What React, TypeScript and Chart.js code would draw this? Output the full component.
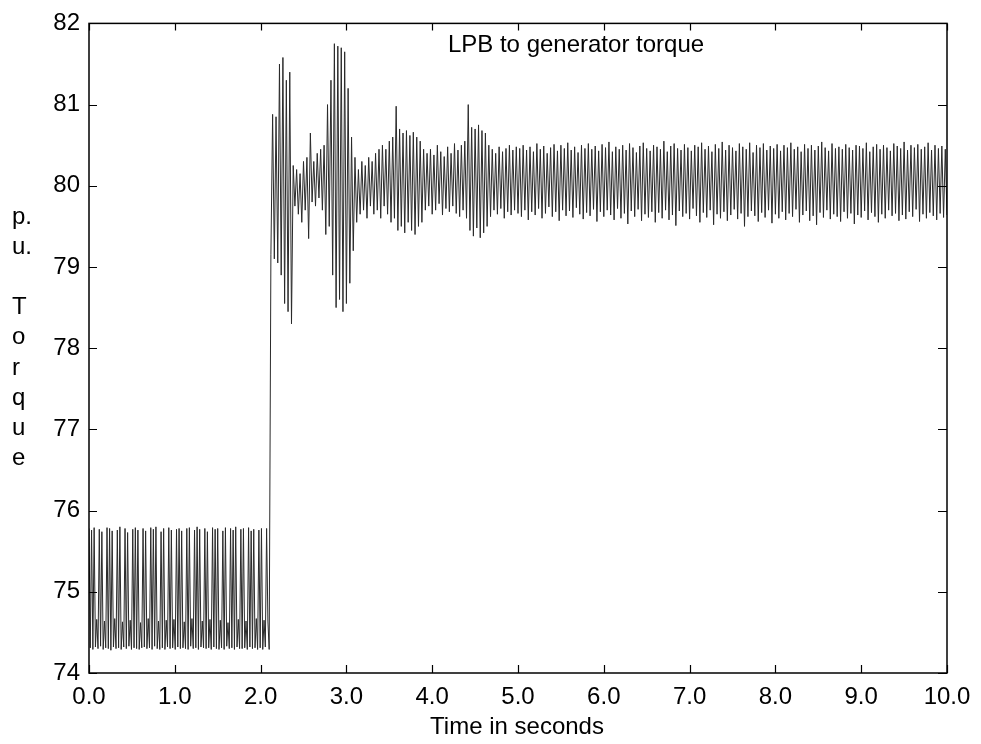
import { useEffect, useRef } from "react";
import { Chart, registerables } from "chart.js";

Chart.register(...registerables);

const FONT = '"Liberation Sans", Arial, Helvetica, sans-serif';

const TITLE = "LPB to generator torque";
const X_TITLE = "Time in seconds";
const Y_TITLE_LINES = ["p.", "u.", "", "T", "o", "r", "q", "u", "e"];

const X_MIN = 0;
const X_MAX = 10;
const X_STEP = 1;
const Y_MIN = 74;
const Y_MAX = 82;
const Y_STEP = 1;

// 0.00 s – 2.10 s : pre-disturbance oscillation (sampled every 0.015 s)
const SEG1_START = 0;
const SEG1_STEP = 0.015;
const SEG1_VALUES = [
  75.78, 74.31, 75.76, 74.29, 75.79, 74.32, 74.66, 74.30,
  75.77, 74.33, 75.74, 74.29, 74.64, 74.31,
  75.79, 74.30, 75.78, 74.28, 75.75, 74.32, 74.67, 74.30,
  75.76, 74.31, 75.80, 74.29, 74.63, 74.32,
  75.78, 74.30, 75.73, 74.33, 74.65, 74.29,
  75.77, 74.31, 75.79, 74.30, 75.76, 74.29, 74.62, 74.31,
  75.78, 74.32, 75.75, 74.30, 74.67, 74.31,
  75.79, 74.29, 75.77, 74.33, 75.80, 74.30, 74.64, 74.29,
  75.74, 74.31, 75.78, 74.29, 74.65, 74.32,
  75.79, 74.30, 75.76, 74.31, 74.66, 74.29,
  75.77, 74.32, 75.78, 74.30, 75.75, 74.31, 74.63, 74.30,
  75.78, 74.29, 75.79, 74.33, 74.67, 74.30,
  75.76, 74.31, 75.80, 74.29, 75.77, 74.32, 74.64, 74.31,
  75.78, 74.30, 75.74, 74.31, 74.66, 74.29,
  75.79, 74.32, 75.77, 74.30, 75.78, 74.29, 74.65, 74.31,
  75.75, 74.29, 75.79, 74.33, 74.62, 74.30,
  75.78, 74.31, 75.76, 74.29, 75.80, 74.32, 74.66, 74.30,
  75.77, 74.30, 75.78, 74.31, 74.64, 74.29,
  75.79, 74.32, 75.75, 74.30, 75.77, 74.31, 74.67, 74.29,
  75.76, 74.31, 75.78, 74.29, 74.65, 74.32,
  75.78, 74.64, 74.29,
];

const SAMPLE_STEP = 0.02;

// 2.12 s – 4.98 s : step and transient bursts
const SEG2_START = 2.12;
const SEG2_VALUES = [
  79.15, 80.88, 79.10, 80.85, 79.05, 81.50, 78.90, 81.58, 78.55, 81.30,
  78.45, 81.40, 78.30, 80.25, 79.75, 80.20, 79.65, 80.15, 79.55, 80.30,
  79.70, 80.35, 79.35, 80.65, 79.80, 80.30, 79.75, 80.40, 79.85, 80.45,
  79.70, 80.50, 79.40, 81.00, 79.50, 81.30, 78.90, 81.75, 78.50, 81.72,
  78.60, 81.70, 78.45, 81.65, 78.55, 81.20, 78.80, 80.60, 79.20, 80.35,
  79.55, 80.20, 79.65, 80.30, 79.70, 80.25, 79.60, 80.35, 79.75, 80.30,
  79.65, 80.40, 79.70, 80.45, 79.60, 80.50, 79.75, 80.45, 79.65, 80.55,
  79.55, 80.60, 79.60, 80.98, 79.45, 80.70, 79.50, 80.65, 79.42, 80.68,
  79.55, 80.62, 79.45, 80.66, 79.40, 80.60, 79.50, 80.55, 79.55, 80.45,
  79.70, 80.40, 79.75, 80.45, 79.65, 80.38, 79.70, 80.50, 79.78, 80.42,
  79.64, 80.36, 79.72, 80.48, 79.68, 80.40, 79.75, 80.52, 79.66, 80.44,
  79.62, 80.50, 79.70, 80.55, 79.60, 81.00, 79.45, 80.72, 79.38, 80.70,
  79.48, 80.75, 79.36, 80.68, 79.42, 80.65, 79.50, 80.50, 79.62, 80.45,
  79.70, 80.40, 79.65, 80.48, 79.72, 80.42, 79.60, 80.46, 79.68, 80.50,
  79.64, 80.44, 79.70, 80.48,
];

// 5.00 s – 10.00 s : settled oscillation
const SEG3_START = 5.0;
const SEG3_VALUES = [
  79.66, 80.46, 79.62, 80.50, 79.70, 80.44, 79.58, 80.48, 79.68, 80.42,
  79.64, 80.52, 79.72, 80.45, 79.60, 80.49, 79.66, 80.40, 79.74, 80.47,
  79.62, 80.51, 79.68, 80.43, 79.57, 80.50, 79.70, 80.46, 79.63, 80.53,
  79.69, 80.44, 79.61, 80.48, 79.73, 80.41, 79.65, 80.50, 79.59, 80.46,
  79.67, 80.52, 79.63, 80.45, 79.71, 80.49, 79.56, 80.43, 79.68, 80.51,
  79.62, 80.47, 79.70, 80.54, 79.64, 80.42, 79.58, 80.48, 79.72, 80.45,
  79.60, 80.50, 79.66, 80.44, 79.53, 80.52, 79.69, 80.47, 79.62, 80.41,
  79.71, 80.49, 79.57, 80.53, 79.65, 80.46, 79.61, 80.43, 79.68, 80.50,
  79.55, 80.48, 79.67, 80.45, 79.60, 80.55, 79.70, 80.42, 79.58, 80.49,
  79.64, 80.52, 79.51, 80.46, 79.69, 80.44, 79.62, 80.51, 79.66, 80.47,
  79.59, 80.43, 79.72, 80.50, 79.63, 80.48, 79.55, 80.53, 79.67, 80.45,
  79.61, 80.49, 79.70, 80.42, 79.52, 80.51, 79.65, 80.46, 79.60, 80.54,
  79.68, 80.44, 79.57, 80.50, 79.64, 80.47, 79.71, 80.43, 79.59, 80.52,
  79.66, 80.48, 79.50, 80.45, 79.62, 80.53, 79.69, 80.41, 79.63, 80.50,
  79.56, 80.47, 79.67, 80.52, 79.61, 80.44, 79.70, 80.49, 79.54, 80.46,
  79.65, 80.51, 79.60, 80.43, 79.68, 80.50, 79.58, 80.47, 79.66, 80.53,
  79.62, 80.45, 79.71, 80.48, 79.55, 80.42, 79.64, 80.51, 79.69, 80.46,
  79.57, 80.50, 79.63, 80.44, 79.52, 80.49, 79.67, 80.54, 79.61, 80.47,
  79.70, 80.43, 79.59, 80.52, 79.65, 80.46, 79.62, 80.48, 79.56, 80.45,
  79.68, 80.51, 79.60, 80.47, 79.66, 80.44, 79.53, 80.50, 79.64, 80.49,
  79.61, 80.46, 79.69, 80.53, 79.58, 80.42, 79.67, 80.48, 79.62, 80.51,
  79.55, 80.45, 79.65, 80.50, 79.60, 80.47, 79.70, 80.43, 79.63, 80.52,
  79.66, 80.49, 79.57, 80.46, 79.64, 80.54, 79.59, 80.44, 79.68, 80.50,
  79.62, 80.47, 79.71, 80.51, 79.56, 80.45, 79.65, 80.48, 79.60, 80.53,
  79.67, 80.44, 79.63, 80.50, 79.58, 80.46, 79.66, 80.49, 79.61, 80.45,
  79.64,
];

const SEGMENTS: [number, number, number[]][] = [
  [SEG1_START, SEG1_STEP, SEG1_VALUES],
  [SEG2_START, SAMPLE_STEP, SEG2_VALUES],
  [SEG3_START, SAMPLE_STEP, SEG3_VALUES],
];

export default function App() {
  const canvasRef = useRef<HTMLCanvasElement>(null);

  useEffect(() => {
    document.body.style.margin = "0";
    const canvas = canvasRef.current;
    if (!canvas) return;

    const points: { x: number; y: number }[] = [];
    SEGMENTS.forEach(([start, step, vals]) => {
      vals.forEach((v, i) => {
        points.push({ x: +(start + i * step).toFixed(4), y: v });
      });
    });

    const framePlugin = {
      id: "frameAndText",
      afterDatasetsDraw(chart: any) {
        const { ctx, chartArea: a, scales } = chart;
        ctx.save();
        ctx.strokeStyle = "#000";
        ctx.lineWidth = 1.5;
        ctx.strokeRect(a.left, a.top, a.right - a.left, a.bottom - a.top);
        ctx.lineWidth = 1.2;
        ctx.beginPath();
        for (let v = Y_MIN; v <= Y_MAX; v += Y_STEP) {
          const y = Math.round(scales.y.getPixelForValue(v)) + 0.5;
          ctx.moveTo(a.left, y);
          ctx.lineTo(a.left + 8, y);
          ctx.moveTo(a.right, y);
          ctx.lineTo(a.right - 9, y);
        }
        for (let v = X_MIN; v <= X_MAX; v += X_STEP) {
          const x = Math.round(scales.x.getPixelForValue(v)) + 0.5;
          ctx.moveTo(x, a.bottom);
          ctx.lineTo(x, a.bottom - 8);
          ctx.moveTo(x, a.top);
          ctx.lineTo(x, a.top + 7);
        }
        ctx.stroke();

        ctx.fillStyle = "#000";
        ctx.font = `24px ${FONT}`;
        ctx.textAlign = "center";
        ctx.textBaseline = "middle";
        ctx.fillText(TITLE, 576, a.top + 22);
        ctx.fillText(X_TITLE, 517, 727);
        ctx.textAlign = "left";
        Y_TITLE_LINES.forEach((t, i) => {
          if (t) ctx.fillText(t, 12, 217 + i * 30.2);
        });
        ctx.restore();
      },
    };

    const chart = new Chart(canvas, {
      type: "line",
      data: {
        datasets: [
          {
            data: points,
            borderColor: "#2a2a2a",
            borderWidth: 1,
            pointRadius: 0,
            tension: 0,
            fill: false,
          },
        ],
      },
      options: {
        responsive: false,
        animation: false,
        devicePixelRatio: 1,
        parsing: false,
        layout: { padding: { left: 0, top: 19, right: 34, bottom: 0 } },
        plugins: {
          legend: { display: false },
          tooltip: { enabled: false },
          title: { display: false },
        },
        scales: {
          x: {
            type: "linear",
            min: X_MIN,
            max: X_MAX,
            grid: { display: false, drawTicks: false },
            border: { display: false },
            ticks: {
              stepSize: X_STEP,
              autoSkip: false,
              maxRotation: 0,
              padding: 10,
              color: "#000",
              font: { family: FONT, size: 24 },
              callback: (v: any) => Number(v).toFixed(1),
            },
            afterFit: (s: any) => {
              s.height = 71;
            },
          },
          y: {
            type: "linear",
            min: Y_MIN,
            max: Y_MAX,
            grid: { display: false, drawTicks: false },
            border: { display: false },
            ticks: {
              stepSize: Y_STEP,
              padding: 9,
              color: "#000",
              font: { family: FONT, size: 24 },
              callback: (v: any) => String(v),
            },
            afterFit: (s: any) => {
              s.width = 89;
            },
          },
        },
      },
      plugins: [framePlugin],
    });

    return () => chart.destroy();
  }, []);

  return (
    <div style={{ width: 981, height: 744, background: "#fff" }}>
      <canvas ref={canvasRef} width={981} height={744} style={{ display: "block" }} />
    </div>
  );
}
